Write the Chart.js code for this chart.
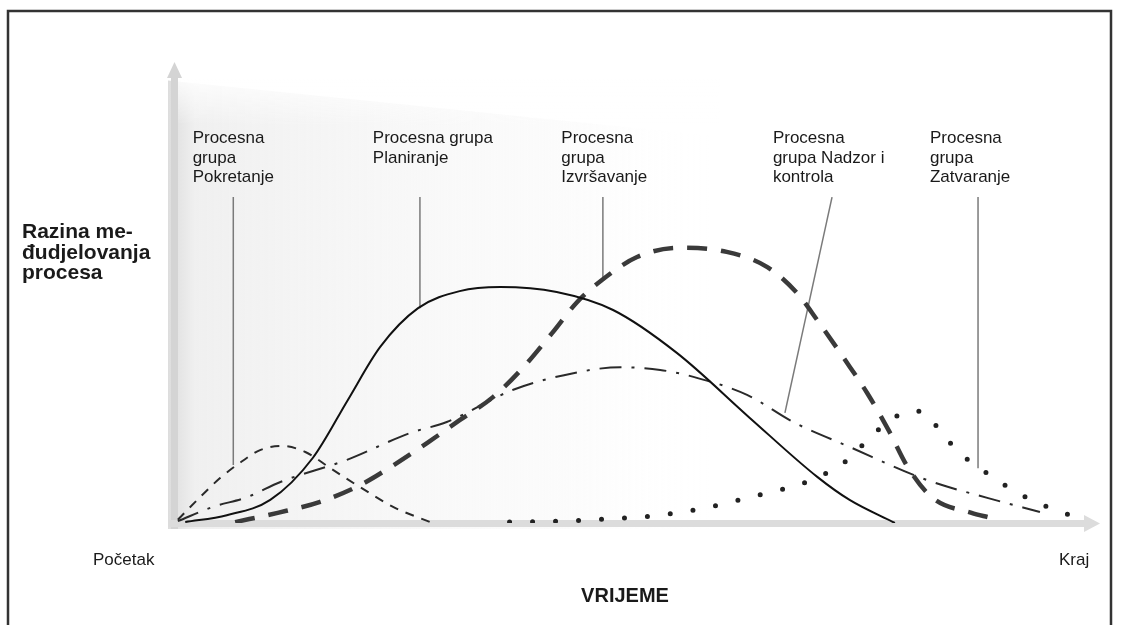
<!DOCTYPE html>
<html lang="hr">
<head>
<meta charset="utf-8">
<title>Razina međudjelovanja procesa</title>
<script src="https://cdn.jsdelivr.net/npm/chart.js@4.4.1/dist/chart.umd.min.js"></script>
<style>
  html, body { margin: 0; padding: 0; background: #fff; }
  canvas { display: block; }
</style>
</head>
<body>
<canvas id="grafikon" width="1123" height="625"></canvas>
<script>
// vrijeme: 0 = početak, 100 = kraj; razina međudjelovanja: 0 - 100
const xPokretanje = [0.2, 2.6, 4.8, 6.6, 9.1, 11.5, 14.0, 16.7, 19.9, 23.7, 27.5];
const yPokretanje = [0.7, 5.6, 9.8, 12.6, 15.8, 16.7, 15.4, 11.9, 7.8, 3.3, 0.2];

const xPlaniranje = [1.0, 5.5, 10.2, 14.8, 18.6, 22.1, 26.2, 30.7, 35.1, 41.2, 47.3, 54.2, 62.1, 69.4, 72.9, 77.8];
const yPlaniranje = [0.2, 1.7, 5.0, 14.1, 26.7, 38.2, 46.6, 50.3, 51.2, 50.1, 46.2, 36.9, 22.8, 10.0, 5.0, 0.0];

const xIzvrsavanje = [6.4, 11.0, 15.6, 19.9, 23.2, 27.2, 30.7, 34.3, 37.6, 40.7, 43.4, 46.1, 49.9, 54.5, 59.6, 64.0, 67.2, 69.4, 72.4, 74.8, 77.1, 79.2, 81.9, 86.1, 88.0];
const yIzvrsavanje = [0.2, 2.2, 4.6, 8.2, 12.1, 17.4, 22.3, 27.3, 33.8, 41.2, 47.9, 52.7, 57.7, 59.7, 58.8, 55.5, 49.9, 44.0, 35.4, 28.2, 20.2, 12.1, 5.4, 2.2, 1.2];

const xNadzor = [0.2, 4.0, 7.7, 11.3, 18.5, 25.3, 29.3, 36.5, 43.0, 48.1, 52.4, 56.0, 61.8, 66.8, 72.9, 81.3, 87.9, 93.5];
const yNadzor = [0.4, 3.5, 5.6, 8.9, 13.7, 19.5, 21.9, 28.9, 32.5, 33.8, 33.2, 31.7, 27.8, 21.9, 16.5, 9.3, 5.4, 2.4];

const xZatvaranje = [36.1, 41.6, 47.0, 52.4, 57.3, 61.0, 64.3, 67.0, 69.5, 72.0, 74.0, 76.0, 78.2, 79.7, 81.0, 82.8, 84.7, 87.0, 89.3, 91.7, 94.3, 97.3];
const yZatvaranje = [0.2, 0.4, 0.9, 1.7, 3.3, 5.0, 6.7, 8.0, 10.0, 12.6, 16.3, 20.2, 23.4, 24.3, 23.9, 19.7, 15.4, 11.9, 8.7, 5.9, 3.5, 1.3];

const grupe = ['Pokretanje', 'Planiranje', 'Izvršavanje', 'Nadzor i kontrola', 'Zatvaranje'];

// natpisi iznad krivulja i njihove crte (u jedinicama osi)
const natpisi = [
  { tekst: ['Procesna', 'grupa', 'Pokretanje'], x: 1.8, crta: [6.2, 70.7, 6.2, 12.6] },
  { tekst: ['Procesna grupa', 'Planiranje'], x: 21.3, crta: [26.4, 70.7, 26.4, 46.6] },
  { tekst: ['Procesna', 'grupa', 'Izvršavanje'], x: 41.7, crta: [46.2, 70.7, 46.2, 52.7] },
  { tekst: ['Procesna', 'grupa Nadzor i', 'kontrola'], x: 64.6, crta: [71.0, 70.7, 65.9, 23.9] },
  { tekst: ['Procesna', 'grupa', 'Zatvaranje'], x: 81.6, crta: [86.8, 70.7, 86.8, 11.9] }
];

const tocke = (xs, ys) => xs.map((v, i) => ({ x: v, y: ys[i] }));

const FONT = '"Liberation Sans", Arial, Helvetica, sans-serif';

const pozadina = {
  id: 'pozadina',
  beforeDatasetsDraw(chart) {
    const { ctx, chartArea: a, scales: { x, y } } = chart;
    ctx.save();
    // blaga siva sjena uz os y
    const lijevo = a.left - 8;
    const desno = x.getPixelForValue(58);
    const vrhL = y.getPixelForValue(96);
    const vrhD = y.getPixelForValue(84);
    const g = ctx.createLinearGradient(lijevo, 0, desno, 0);
    g.addColorStop(0, 'rgba(215,215,215,0.85)');
    g.addColorStop(0.05, 'rgba(236,236,236,0.8)');
    g.addColorStop(0.4, 'rgba(244,244,244,0.7)');
    g.addColorStop(0.75, 'rgba(248,248,248,0.45)');
    g.addColorStop(1, 'rgba(255,255,255,0)');
    ctx.beginPath();
    ctx.moveTo(lijevo, vrhL);
    ctx.lineTo(desno, vrhD);
    ctx.lineTo(desno, a.bottom + 6);
    ctx.lineTo(lijevo, a.bottom + 6);
    ctx.closePath();
    ctx.fillStyle = g;
    ctx.fill();
    // rub sjene pri vrhu se gubi
    const v = ctx.createLinearGradient(0, vrhL - 4, 0, vrhL + 45);
    v.addColorStop(0, 'rgba(255,255,255,0.9)');
    v.addColorStop(1, 'rgba(255,255,255,0)');
    ctx.fillStyle = v;
    ctx.fillRect(lijevo + 8, vrhL - 4, desno - lijevo, 60);

    // osi sa strelicama
    ctx.fillStyle = '#d4d4d4';
    ctx.fillRect(a.left - 5, a.top + 14, 7, a.bottom - a.top - 8);
    ctx.beginPath();
    ctx.moveTo(a.left - 1.5, a.top);
    ctx.lineTo(a.left - 9, a.top + 16);
    ctx.lineTo(a.left + 6, a.top + 16);
    ctx.closePath();
    ctx.fill();

    ctx.fillStyle = '#dcdcdc';
    ctx.fillRect(a.left - 8, a.bottom - 3, a.right - a.left - 8, 7);
    ctx.beginPath();
    ctx.moveTo(a.right, a.bottom + 0.5);
    ctx.lineTo(a.right - 16, a.bottom - 8);
    ctx.lineTo(a.right - 16, a.bottom + 9);
    ctx.closePath();
    ctx.fill();

    // crte prema krivuljama
    ctx.strokeStyle = '#7a7a7a';
    ctx.lineWidth = 1.5;
    natpisi.forEach(n => {
      const [x1, y1, x2, y2] = n.crta;
      ctx.beginPath();
      ctx.moveTo(x.getPixelForValue(x1), y.getPixelForValue(y1));
      ctx.lineTo(x.getPixelForValue(x2), y.getPixelForValue(y2));
      ctx.stroke();
    });
    ctx.restore();
  },
  afterDraw(chart) {
    const { ctx, scales: { x, y } } = chart;
    ctx.save();
    ctx.fillStyle = '#1a1a1a';
    ctx.textBaseline = 'alphabetic';

    ctx.font = '17px ' + FONT;
    natpisi.forEach(n => {
      const px = x.getPixelForValue(n.x);
      const py = y.getPixelForValue(82.4);
      n.tekst.forEach((t, i) => ctx.fillText(t, px, py + i * 19.5));
    });

    // naslov osi y
    ctx.font = 'bold 21px ' + FONT;
    ['Razina me-', 'đudjelovanja', 'procesa'].forEach((t, i) => ctx.fillText(t, 22, 238 + i * 20.5));

    // oznake osi x
    ctx.font = '17px ' + FONT;
    ctx.fillText('Početak', 93, 565);
    ctx.fillText('Kraj', 1059, 565);
    ctx.font = 'bold 20px ' + FONT;
    ctx.textAlign = 'center';
    ctx.fillText('VRIJEME', 625, 602);

    // okvir
    ctx.strokeStyle = '#333';
    ctx.lineWidth = 2.5;
    ctx.beginPath();
    ctx.moveTo(8, 625);
    ctx.lineTo(8, 11);
    ctx.lineTo(1111, 11);
    ctx.lineTo(1111, 625);
    ctx.stroke();
    ctx.restore();
  }
};

const zajedno = { showLine: true, pointRadius: 0, fill: false, cubicInterpolationMode: 'monotone' };

new Chart(document.getElementById('grafikon'), {
  type: 'scatter',
  data: {
    datasets: [
      { ...zajedno, label: grupe[0], data: tocke(xPokretanje, yPokretanje), borderColor: '#2a2a2a', borderWidth: 2, borderDash: [9, 8] },
      { ...zajedno, label: grupe[1], data: tocke(xPlaniranje, yPlaniranje), borderColor: '#111', borderWidth: 2 },
      { ...zajedno, label: grupe[2], data: tocke(xIzvrsavanje, yIzvrsavanje), borderColor: '#3a3a3a', borderWidth: 4.5, borderDash: [20, 14] },
      { ...zajedno, label: grupe[3], data: tocke(xNadzor, yNadzor), borderColor: '#2a2a2a', borderWidth: 2, borderDash: [22, 10, 3, 10] },
      { ...zajedno, label: grupe[4], data: tocke(xZatvaranje, yZatvaranje), borderColor: '#222', borderWidth: 5, borderDash: [0, 23], borderCapStyle: 'round' }
    ]
  },
  options: {
    responsive: false,
    animation: false,
    devicePixelRatio: 1,
    layout: { padding: { left: 176, right: 23, top: 62, bottom: 102 } },
    scales: {
      x: { type: 'linear', min: 0, max: 100, display: false },
      y: { type: 'linear', min: 0, max: 100, display: false }
    },
    plugins: {
      legend: { display: false },
      tooltip: { enabled: false }
    }
  },
  plugins: [pozadina]
});
</script>
</body>
</html>
